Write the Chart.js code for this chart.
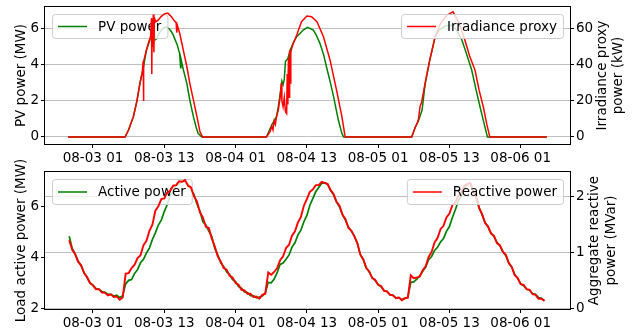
<!DOCTYPE html>
<html>
<head>
<meta charset="utf-8">
<script src="https://cdn.jsdelivr.net/npm/chart.js@4/dist/chart.umd.min.js"></script>
<style>
html, body { margin: 0; padding: 0; background: #fff; }
#wrap { position: relative; width: 638px; height: 329px; overflow: hidden; }
canvas { position: absolute; left: 0; }
</style>
</head>
<body>
<div id="wrap">
  <canvas id="pvChart" width="638" height="168" style="top:0px"></canvas>
  <canvas id="loadChart" width="638" height="179" style="top:150px"></canvas>
</div>
<script>
// hours counted from 08-03 01:00
const xTickHours = [0, 12, 24, 36, 48, 60, 72];
const xTickLabels = ['08-03 01', '08-03 13', '08-04 01', '08-04 13', '08-05 01', '08-05 13', '08-06 01'];

// --- top plot: PV power (MW) and irradiance proxy (kW)
const pvHours = [-4.2, 5.4, 6.0, 6.8, 7.4, 7.9, 8.5, 9.0, 9.5, 9.8,
  10.0, 10.3, 10.5, 10.7, 11.2, 11.8, 12.3, 12.7, 13.1, 13.5,
  14.2, 14.6, 14.75, 14.8, 15.2, 15.8, 16.3, 16.9, 17.4, 17.7, 18.3,
  29.2, 30.1, 30.9, 31.2, 31.6, 31.8, 32.0, 32.2, 32.4, 32.8,
  33.2, 33.8, 34.3, 35.4, 36.1, 37.1, 37.6, 38.2, 38.8, 39.3,
  39.9, 40.5, 41.3, 41.9, 42.2,
  53.65, 54.2, 54.8, 55.1, 55.4, 55.9, 56.3, 56.7, 57.2, 57.6,
  58.3, 59.2, 60.3, 61.2, 62.1, 62.9, 63.75, 64.5, 65.15, 65.8, 66.4, 76.4];
const pvPower = [0, 0, 0.4, 1.13, 2.0, 2.98, 3.9, 4.83, 5.3, 5.6,
  5.35, 5.7, 5.4, 5.45, 5.8, 6.05, 6.12, 6.04, 5.9, 5.67,
  5.1, 4.6, 3.85, 4.35, 3.75, 2.98, 2.05, 1.13, 0.5, 0.2, 0,
  0, 0.67, 1.13, 1.7, 2.6, 3.1, 2.9, 3.2, 4.2, 4.35,
  4.83, 5.3, 5.57, 5.94, 6.09, 5.94, 5.65, 5.2, 4.6, 3.9,
  3.1, 2.24, 0.94, 0.2, 0,
  0, 0.5, 0.9, 1.2, 1.5, 2.9, 3.6, 4.28, 5.0, 5.57,
  5.95, 6.15, 6.22, 5.95, 5.39, 4.6, 3.72, 2.6, 1.68, 0.8, 0, 0];

const irrHours = [-4.2, 5.4, 6.0, 6.8, 7.4, 7.9, 8.3, 8.45, 8.5, 8.55,
  9.0, 9.5, 9.7, 9.85, 9.9, 9.95, 10.1, 10.15, 10.25, 10.35,
  10.6, 11.0, 11.5, 12.1, 12.6, 13.2, 13.7, 14.0, 14.1, 14.2,
  14.6, 15.2, 15.8, 16.3, 16.9, 17.5, 18.0, 18.45,
  29.2, 29.8, 30.1, 30.3, 30.5, 30.7, 30.9, 31.2, 31.5, 31.7,
  31.8, 32.0, 32.2, 32.4, 32.6, 32.7, 32.8, 32.9, 33.0, 33.1,
  33.2, 33.3, 33.5, 34.3, 35.1, 36.0, 36.8, 37.7, 38.8, 39.9,
  41.0, 41.9, 42.4, 42.5,
  53.65, 54.2, 54.6, 54.8, 55.05, 55.3, 55.9, 56.7, 57.6, 58.5,
  59.5, 60.6, 61.6, 62.6, 63.4, 64.3, 65.0, 65.7, 66.3, 66.8, 76.4];
const irrPower = [0, 0, 4, 11.3, 20, 29.8, 36, 42, 20, 42,
  48.3, 54, 56, 66, 35, 60, 50, 68, 47, 66,
  64, 65, 67, 68.5, 68.8, 66.8, 64.5, 63.5, 58, 62,
  57.6, 48.3, 39, 29.8, 20.6, 11.3, 3, 0,
  0, 3, 6, 4, 9, 7, 11.3, 15, 22, 30,
  20, 16.8, 22, 14, 13, 35, 18, 44, 22, 48,
  30, 47, 50, 56.7, 64, 67.2, 66.8, 64, 55.7, 42.8,
  26, 11.3, 1, 0,
  0, 5, 8, 10, 17, 19, 29.8, 42.8, 55.7, 63,
  67.5, 69.5, 63.5, 53.9, 45, 37.2, 26, 16.8, 7, 0, 0];

// --- bottom plot: load, sampled every half hour from -4 h
const loadStart = -4, loadStep = 0.5;
const activePower = [
  4.84, 4.36, 4.14, 3.86, 3.68, 3.40, 3.21, 3.00, 2.90, 2.78,
  2.75, 2.66, 2.63, 2.55, 2.55, 2.48, 2.51, 2.42, 2.49, 2.96,
  3.10, 3.13, 3.37, 3.52, 3.79, 3.93, 4.18, 4.37, 4.71, 4.97,
  5.28, 5.47, 5.81, 6.09, 6.46, 6.59, 6.85, 6.89, 7.05, 7.01,
  6.90, 6.66, 6.49, 6.11, 5.83, 5.41, 5.28, 5.04, 4.83, 4.36,
  4.11, 3.79, 3.65, 3.43, 3.33, 3.13, 3.05, 2.85, 2.79, 2.64,
  2.62, 2.50, 2.50, 2.41, 2.44, 2.48, 2.60, 3.02, 3.00, 3.15,
  3.40, 3.73, 3.78, 3.93, 4.10, 4.41, 4.58, 4.89, 5.08, 5.41,
  5.66, 6.05, 6.32, 6.59, 6.76, 6.93, 6.94, 6.89, 6.64, 6.47,
  6.18, 5.99, 5.68, 5.47, 5.20, 5.05, 4.84, 4.55, 4.12, 3.91,
  3.60, 3.43, 3.20, 3.09, 2.93, 2.85, 2.70, 2.66, 2.53, 2.51,
  2.41, 2.42, 2.34, 2.39, 2.43, 3.02, 3.04, 3.15, 3.26, 3.46,
  3.62, 3.91, 4.04, 4.28, 4.40, 4.61, 4.75, 5.03, 5.22, 5.58,
  5.88, 6.23, 6.42, 6.73, 6.88, 6.95, 6.63, 6.35, 5.96, 5.69,
  5.38, 5.20, 4.96, 4.83, 4.60, 4.47, 4.24, 4.07, 3.78, 3.61,
  3.33, 3.17, 2.96, 2.89, 2.75, 2.71, 2.58, 2.55, 2.42, 2.39,
  2.30];
const reactivePower = [
  1.22, 1.05, 0.97, 0.83, 0.77, 0.63, 0.56, 0.45, 0.41, 0.34,
  0.34, 0.28, 0.28, 0.23, 0.25, 0.20, 0.21, 0.15, 0.19, 0.62,
  0.63, 0.72, 0.78, 0.90, 0.95, 1.13, 1.21, 1.39, 1.50, 1.75,
  1.83, 1.96, 1.97, 2.08, 2.11, 2.20, 2.21, 2.28, 2.27, 2.30,
  2.20, 2.17, 2.01, 1.92, 1.72, 1.63, 1.46, 1.44, 1.25, 1.11,
  0.93, 0.84, 0.72, 0.69, 0.58, 0.55, 0.45, 0.42, 0.33, 0.32,
  0.26, 0.26, 0.20, 0.21, 0.17, 0.24, 0.26, 0.64, 0.60, 0.65,
  0.72, 0.86, 0.93, 1.08, 1.14, 1.30, 1.38, 1.54, 1.64, 1.84,
  1.96, 2.09, 2.13, 2.21, 2.21, 2.27, 2.25, 2.23, 2.12, 2.05,
  1.91, 1.84, 1.68, 1.60, 1.44, 1.39, 1.29, 1.17, 0.96, 0.88,
  0.72, 0.66, 0.54, 0.51, 0.42, 0.40, 0.31, 0.30, 0.24, 0.23,
  0.18, 0.19, 0.14, 0.18, 0.19, 0.59, 0.54, 0.55, 0.57, 0.68,
  0.75, 0.92, 1.01, 1.18, 1.26, 1.42, 1.48, 1.63, 1.70, 1.85,
  1.90, 2.02, 2.08, 2.20, 2.23, 2.25, 2.11, 2.02, 1.80, 1.69,
  1.53, 1.47, 1.34, 1.30, 1.17, 1.13, 1.01, 0.96, 0.81, 0.74,
  0.59, 0.54, 0.43, 0.42, 0.34, 0.33, 0.25, 0.24, 0.17, 0.17,
  0.13];
const loadHours = activePower.map((_, i) => loadStart + i * loadStep);

const GREEN = '#008000';
const RED = '#ff0000';
const FONT_SIZE = 13.5;
const FONT = FONT_SIZE + 'px "DejaVu Sans"';

Chart.defaults.font.family = '"DejaVu Sans"';
Chart.defaults.font.size = FONT_SIZE;
Chart.defaults.color = '#000';

function pairs(xs, ys) {
  return xs.map((x, i) => ({ x: x, y: ys[i] }));
}

function drawLegend(ctx, area, label, color, side, boxH) {
  ctx.save();
  ctx.font = FONT;
  const tw = ctx.measureText(label).width;
  const w = 6 + 29 + 11 + tw + 6;
  const x = side === 'left' ? area.left + 7 : area.right - 7 - w;
  const y = area.top + 7;
  ctx.beginPath();
  ctx.roundRect(x + 0.5, y + 0.5, w, boxH, 3);
  ctx.fillStyle = 'rgba(255,255,255,0.8)';
  ctx.fill();
  ctx.strokeStyle = '#cccccc';
  ctx.lineWidth = 1;
  ctx.stroke();
  ctx.beginPath();
  ctx.moveTo(x + 6, y + boxH / 2 + 0.5);
  ctx.lineTo(x + 35, y + boxH / 2 + 0.5);
  ctx.strokeStyle = color;
  ctx.lineWidth = 1.5;
  ctx.stroke();
  ctx.fillStyle = '#000';
  ctx.textBaseline = 'middle';
  ctx.textAlign = 'left';
  ctx.fillText(label, x + 46, y + boxH / 2 + 1);
  ctx.restore();
}

function drawVerticalText(ctx, text, x, y) {
  ctx.save();
  ctx.font = FONT;
  ctx.fillStyle = '#000';
  ctx.translate(x, y);
  ctx.rotate(-Math.PI / 2);
  ctx.textAlign = 'center';
  ctx.textBaseline = 'middle';
  ctx.fillText(text, 0, 0);
  ctx.restore();
}

function framePlugin(cfg) {
  return {
    id: 'frame',
    afterDatasetDraw(chart, args) {
      // left legend sits under the right-axis line, like matplotlib twin axes
      if (args.meta.yAxisID === 'yL') {
        drawLegend(chart.ctx, chart.chartArea, cfg.leftLabel, GREEN, 'left', cfg.legendH);
      }
    },
    afterDatasetsDraw(chart) {
      const ctx = chart.ctx;
      const a = chart.chartArea;
      drawLegend(ctx, a, cfg.rightLabel, RED, 'right', cfg.legendH);
      ctx.save();
      ctx.strokeStyle = '#000';
      ctx.lineWidth = 1;
      ctx.strokeRect(Math.round(a.left) - 0.5, Math.round(a.top) - 0.5,
        Math.round(a.width) + 1, Math.round(a.height) + 1);
      ctx.restore();
      const cy = (a.top + a.bottom) / 2;
      drawVerticalText(ctx, cfg.leftTitle, 21, cy);
      drawVerticalText(ctx, cfg.rightTitle[0], a.right + cfg.rightTitleX[0], cy);
      drawVerticalText(ctx, cfg.rightTitle[1], a.right + cfg.rightTitleX[1], cy);
    }
  };
}

function buildChart(id, cfg) {
  const fixSize = (prop, size) => (scale) => {
    scale[prop] = size;
    scale.paddingTop = 0; scale.paddingBottom = 0;
    scale.paddingLeft = 0; scale.paddingRight = 0;
  };
  return new Chart(document.getElementById(id), {
    type: 'line',
    data: {
      datasets: [
        { label: cfg.leftLabel, data: pairs(cfg.leftX, cfg.leftY), yAxisID: 'yL',
          borderColor: GREEN, borderWidth: cfg.lineW[0], order: 2 },
        { label: cfg.rightLabel, data: pairs(cfg.rightX, cfg.rightY), yAxisID: 'yR',
          borderColor: RED, borderWidth: cfg.lineW[1], order: 1 }
      ]
    },
    options: {
      responsive: false,
      animation: false,
      devicePixelRatio: 1,
      parsing: false,
      layout: { padding: { top: cfg.padTop, left: 0, right: 0, bottom: 0 } },
      elements: { point: { radius: 0 }, line: { tension: 0, fill: false } },
      plugins: { legend: { display: false }, tooltip: { enabled: false } },
      scales: {
        x: {
          type: 'linear', min: -8.08, max: 80.3,
          afterBuildTicks: (s) => { s.ticks = xTickHours.map(v => ({ value: v })); },
          afterFit: fixSize('height', cfg.xAxisH),
          ticks: { maxRotation: 0, autoSkip: false, padding: 2,
            callback: (v) => xTickLabels[xTickHours.indexOf(v)] },
          grid: { drawOnChartArea: false, tickLength: 4, tickColor: '#000', tickWidth: 1 },
          border: { display: false }
        },
        yL: {
          position: 'left', min: cfg.leftRange[0], max: cfg.leftRange[1],
          afterBuildTicks: (s) => { s.ticks = cfg.leftTicks.map(v => ({ value: v })); },
          afterFit: fixSize('width', 45),
          ticks: { padding: 2 },
          grid: { drawOnChartArea: false, tickLength: 4, tickColor: '#000', tickWidth: 1 },
          border: { display: false }
        },
        yR: {
          position: 'right', min: cfg.rightRange[0], max: cfg.rightRange[1],
          afterBuildTicks: (s) => { s.ticks = cfg.rightTicks.map(v => ({ value: v })); },
          afterFit: fixSize('width', 68),
          ticks: { padding: 2 },
          grid: { drawOnChartArea: true, color: '#b0b0b0', lineWidth: 0.8,
            tickLength: 4, tickColor: '#000', tickWidth: 1 },
          border: { display: false }
        }
      }
    },
    plugins: [framePlugin(cfg)]
  });
}

buildChart('pvChart', {
  leftLabel: 'PV power', rightLabel: 'Irradiance proxy',
  leftTitle: 'PV power (MW)', rightTitle: ['Irradiance proxy', 'power (kW)'],
  rightTitleX: [32.5, 48],
  leftX: pvHours, leftY: pvPower, rightX: irrHours, rightY: irrPower,
  leftRange: [-0.39, 7.22], rightRange: [-3.9, 72.2],
  leftTicks: [0, 2, 4, 6], rightTicks: [0, 20, 40, 60],
  padTop: 7, xAxisH: 24, legendH: 24, lineW: [1.5, 1.5]
});

buildChart('loadChart', {
  leftLabel: 'Active power', rightLabel: 'Reactive power',
  leftTitle: 'Load active power (MW)', rightTitle: ['Aggregate reactive', 'power (MVar)'],
  rightTitleX: [24, 41],
  leftX: loadHours, leftY: activePower, rightX: loadHours, rightY: reactivePower,
  leftRange: [1.97, 7.37], rightRange: [-0.015, 2.446],
  leftTicks: [2, 4, 6], rightTicks: [0, 1, 2],
  padTop: 22, xAxisH: 20, legendH: 25, lineW: [1.7, 1.9]
});
</script>
</body>
</html>
